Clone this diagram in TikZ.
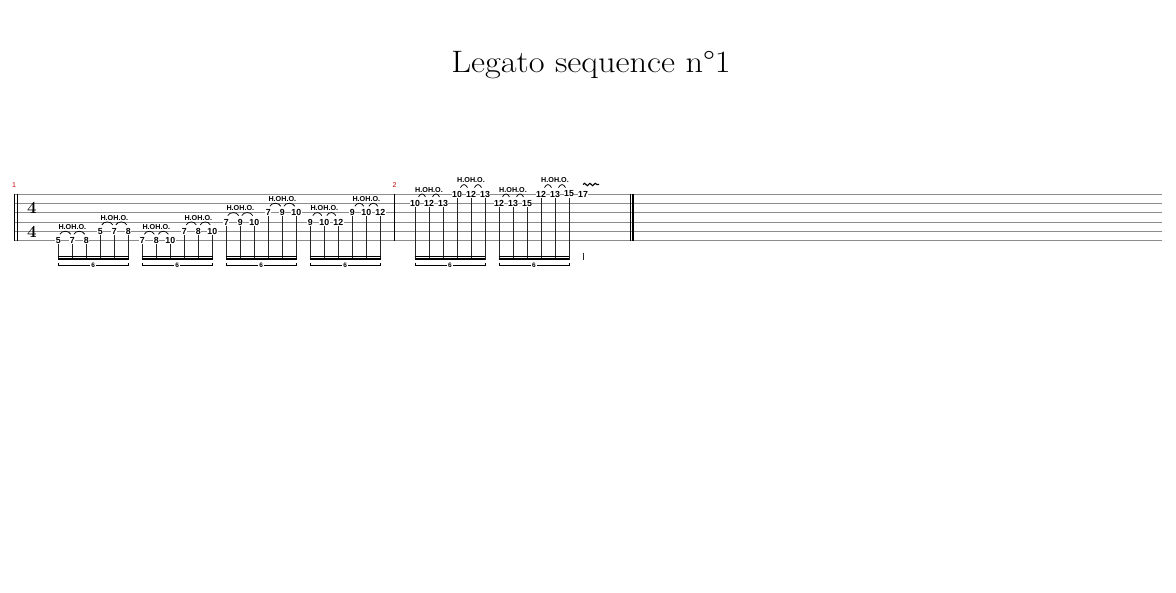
\documentclass[tikz,border=0pt]{standalone}
\usepackage{fontspec}
\setsansfont{Liberation Sans}
\usetikzlibrary{calc,decorations.pathmorphing}
\begin{document}
\begin{tikzpicture}[x=1pt,y=-1pt,
  staffline/.style={draw=black!45,line width=0.8pt},
  fret/.style={fill=white,inner sep=0.5pt,font=\sffamily\bfseries\fontsize{8.8}{8.8}\selectfont},
  ho/.style={inner sep=0pt,font=\sffamily\bfseries\fontsize{7.2}{7.2}\selectfont},
  slur/.style={draw=black,line width=0.75pt},
  stem/.style={draw=black!85,line width=0.75pt},
  beam/.style={draw=black,line width=1.2pt},
  tup/.style={draw=black,line width=0.65pt},
  tupnum/.style={fill=white,inner sep=1.3pt,font=\sffamily\bfseries\fontsize{6.5}{6.5}\selectfont},
  barline/.style={draw=black,line width=0.9pt},
  thickbar/.style={draw=black,line width=2.4pt},
  measnum/.style={text=red!80!black,font=\sffamily\fontsize{7}{7}\selectfont,inner sep=0pt},
  timesig/.style={font=\bfseries\fontsize{17}{17}\selectfont,inner sep=0pt},
  vib/.style={draw=black,line width=1.1pt,decorate,decoration={snake,segment length=5.3pt,amplitude=1.2pt}},
]
\useasboundingbox (0,0) rectangle (1176,593);
\node[font=\fontsize{31}{36}\selectfont,anchor=base,transform shape,xscale=1.11] (title) at (591,72.7) {Legato sequence n°1};

% staff lines
\foreach \s/\y in {1/194,2/203.33,3/212.67,4/222,5/231.33,6/240.67} {
  \coordinate (sL\s) at (14,\y);
  \coordinate (sR\s) at (1162,\y);
  \draw[staffline] (sL\s) -- (sR\s);
}

% bar lines
\coordinate (bA1) at (14.5,194); \coordinate (bA2) at (14.5,240.67);
\coordinate (bB1) at (17.4,194); \coordinate (bB2) at (17.4,240.67);
\coordinate (bC1) at (394.3,194); \coordinate (bC2) at (394.3,240.67);
\coordinate (bD1) at (630,194); \coordinate (bD2) at (630,240.67);
\coordinate (bE1) at (633.2,194); \coordinate (bE2) at (633.2,240.67);
\draw[line width=1.8pt] (bA1) -- (bA2);
\draw[barline] (bB1) -- (bB2);
\draw[barline] (bC1) -- (bC2);
\draw[barline] (bD1) -- (bD2);
\draw[thickbar] (bE1) -- (bE2);

% measure numbers
\node[measnum] (m1) at (14,185.5) {1};
\node[measnum] (m2) at (394.5,185.5) {2};

% time signature
\node[timesig] (ts1) at (32,207.8) {4};
\node[timesig] (ts2) at (32,232.2) {4};

% beam/tuplet reference heights
\coordinate (stemend) at (0,259.6);
\coordinate (bmu) at (0,256.4);
\coordinate (bml) at (0,259);
\coordinate (tp) at (0,265.3);

\foreach \g/\xo/\sa/\sb/\fr/\w in {
  1/58.3/6/5/{5,7,8,5,7,8}/1.5,
  2/142.3/6/5/{7,8,10,7,8,10}/2,
  3/226.3/4/3/{7,9,10,7,9,10}/1.5,
  4/310.3/4/3/{9,10,12,9,10,12}/2.5,
  5/415/2/1/{10,12,13,10,12,13}/3.5,
  6/499/2/1/{12,13,15,12,13,15}/3.5} {
  \foreach \f [count=\i] in \fr {
    \pgfmathsetmacro\xx{\xo+14*(\i-1)}
    \pgfmathsetmacro\yy{\i<4 ? 194+(\sa-1)*28/3 : 194+(\sb-1)*28/3}
    \node[fret] (n\g-\i) at (\xx,\yy) {\f};
    \draw[stem] (n\g-\i.south) -- (n\g-\i |- stemend);
  }
  \foreach \p/\q in {1/2,2/3,4/5,5/6} {
    \draw[slur] ($(n\g-\p)+(\w,-6.4)$) .. controls ($(n\g-\p)+(\w+2,-10.4)$) and ($(n\g-\q)+(-\w-2,-10.4)$) .. ($(n\g-\q)+(-\w,-6.4)$);
  }
  \node[ho] (h\g a) at ($(n\g-2)+(0,-13.6)$) {H.OH.O.};
  \node[ho] (h\g b) at ($(n\g-5)+(0,-13.6)$) {H.OH.O.};
  \draw[beam] ($(n\g-1 |- bmu)+(-0.4,0)$) -- ($(n\g-6 |- bmu)+(0.4,0)$);
  \draw[beam] ($(n\g-1 |- bml)+(-0.4,0)$) -- ($(n\g-6 |- bml)+(0.4,0)$);
  \draw[tup] ($(n\g-1 |- tp)+(0,-2.6)$) -- (n\g-1 |- tp) -- (n\g-6 |- tp) -- ++(0,-2.6);
  \node[tupnum] (t\g) at ($(n\g-1 |- tp)!0.5!(n\g-6 |- tp)$) {6};
}

% last note with vibrato
\node[fret] (n17) at (583,194) {17};
\coordinate (tk1) at (0,252.7);
\draw[stem] (n17 |- tk1) -- (n17 |- stemend);
\coordinate (vibA) at (583,184.5);
\coordinate (vibB) at (599,184.5);
\draw[vib] (vibA) -- (vibB);
\end{tikzpicture}
\end{document}
